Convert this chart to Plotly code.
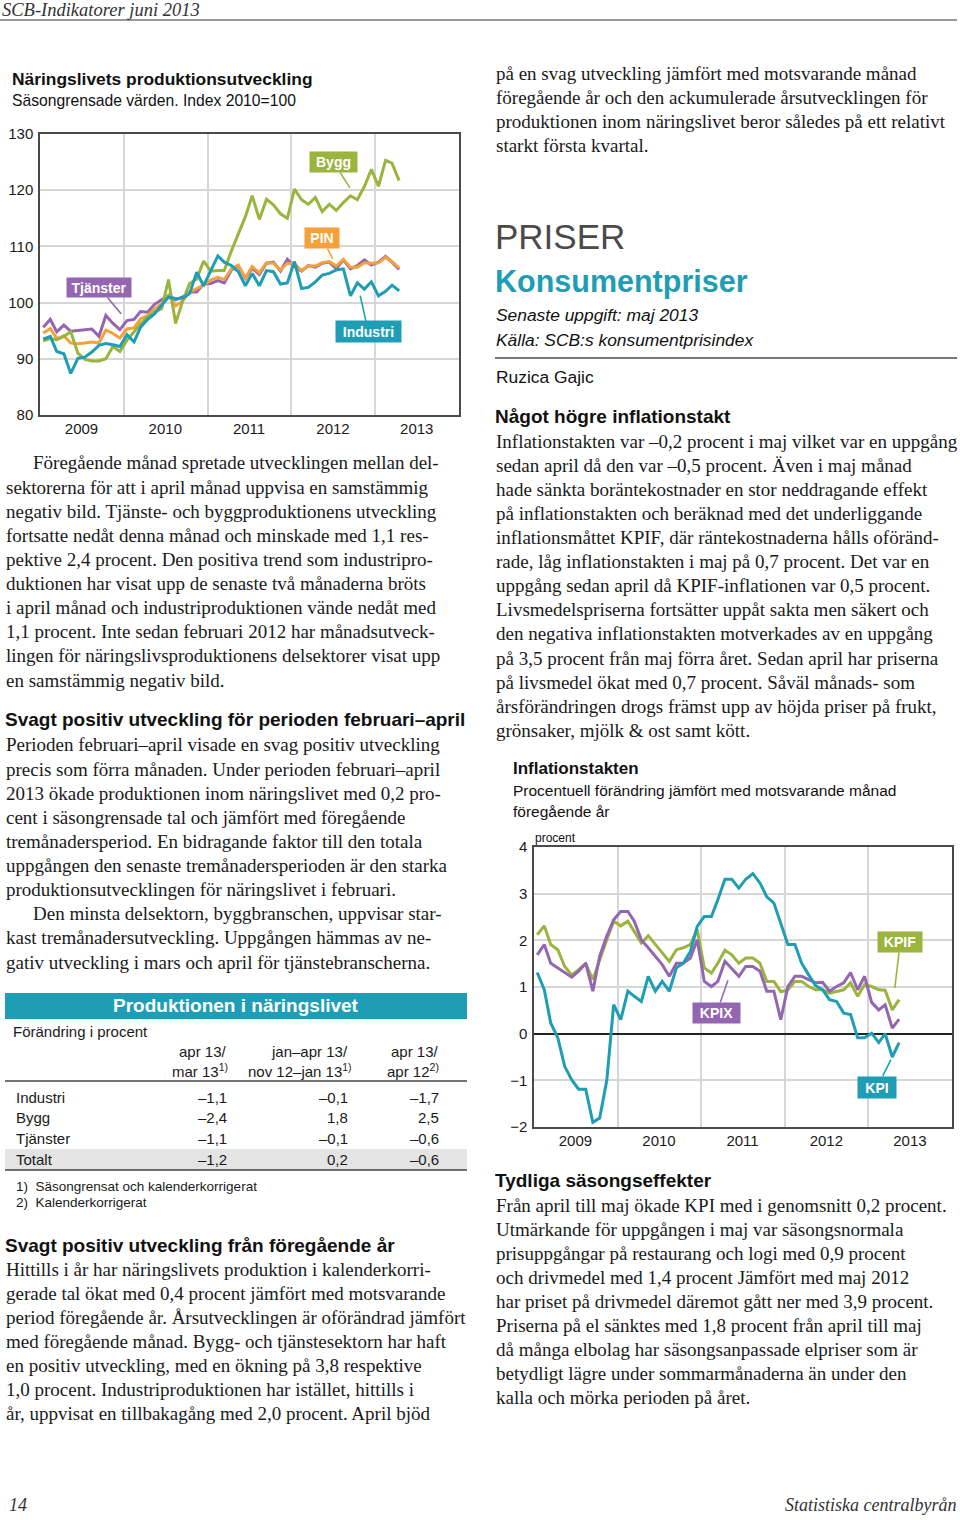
import plotly.graph_objects as go
import pandas as pd

W, H = 960, 1520

# ---------------- Data: Näringslivets produktionsutveckling, index 2010=100 (jan 2009 - apr 2013)
industri = [93.5, 94.0, 91.3, 90.9, 87.4, 90.1, 90.3, 91.2, 92.4, 92.7, 92.5, 92.2,
            94.3, 93.0, 95.6, 97.0, 98.0, 99.5, 101.0, 100.7, 100.8, 101.6, 105.4, 103.0,
            105.7, 108.3, 107.2, 106.6, 105.5, 103.0, 105.2, 103.0, 105.7, 105.5, 103.3, 103.5,
            107.3, 102.5, 102.7, 103.7, 104.9, 105.2, 105.8, 106.0, 101.2, 103.5, 102.4, 103.7,
            101.2, 102.0, 103.1, 102.1]
bygg = [93.2, 93.6, 93.4, 94.0, 94.8, 91.0, 89.9, 89.6, 89.6, 90.0, 92.2, 91.3,
        93.3, 94.9, 96.2, 97.5, 98.3, 98.9, 104.1, 96.3, 100.3, 103.4, 104.2, 107.4,
        105.6, 105.7, 105.7, 109.2, 112.3, 115.3, 119.0, 114.8, 118.4, 117.4, 115.8, 115.0,
        120.2, 118.3, 117.5, 118.7, 116.2, 117.5, 116.4, 117.8, 119.0, 118.3, 120.7, 123.7,
        120.7, 125.3, 124.8, 121.7]
tjanster = [95.6, 97.0, 94.8, 96.0, 94.9, 95.0, 95.2, 95.3, 94.0, 97.7, 96.3, 95.2,
            96.8, 97.0, 98.4, 98.3, 99.7, 100.5, 101.3, 100.5, 101.0, 101.9, 101.9, 103.3,
            103.4, 103.9, 103.5, 105.8, 106.5, 104.3, 106.1, 105.0, 107.0, 107.2, 105.6, 107.7,
            106.4, 105.6, 106.6, 106.3, 107.0, 107.2, 106.0, 107.6, 106.0, 106.6, 107.6, 106.7,
            107.2, 108.2, 107.2, 105.9]
pin = [94.6, 95.4, 93.6, 94.1, 92.8, 92.7, 92.8, 93.0, 92.8, 95.1, 94.5, 93.7,
       95.3, 95.5, 97.1, 97.7, 98.9, 99.8, 101.3, 99.4, 100.3, 101.9, 102.5, 103.1,
       104.0, 104.5, 104.1, 106.0, 106.7, 104.4, 106.4, 105.3, 107.1, 107.0, 105.8, 107.0,
       106.9, 105.7, 106.5, 106.5, 107.1, 107.3, 106.5, 107.7, 106.3, 106.3, 107.1, 107.0,
       107.1, 108.0, 107.3, 106.2]

# ---------------- Data: Inflationstakten, procent (jan 2009 - maj 2013)
kpi = [1.31, 0.94, 0.23, -0.09, -0.70, -0.99, -1.19, -1.19, -1.90, -1.81, -1.00, 0.62,
       0.30, 0.91, 0.80, 0.69, 1.23, 0.91, 1.12, 0.91, 1.41, 1.51, 1.76, 2.30,
       2.51, 2.51, 2.87, 3.31, 3.31, 3.12, 3.31, 3.43, 3.23, 2.93, 2.80, 2.37,
       1.91, 1.91, 1.51, 1.26, 1.03, 0.94, 0.73, 0.69, 0.44, 0.41, -0.09, -0.09,
       0.01, -0.19, 0.00, -0.50, -0.19]
kpif = [2.12, 2.31, 1.91, 1.80, 1.44, 1.26, 1.37, 1.50, 1.16, 1.59, 2.01, 2.41,
        2.31, 2.41, 2.19, 1.94, 2.10, 1.91, 1.73, 1.55, 1.80, 1.84, 1.91, 2.23,
        1.41, 1.30, 1.51, 1.79, 1.69, 1.51, 1.62, 1.62, 1.51, 1.12, 1.12, 0.90,
        0.94, 1.12, 1.12, 1.01, 0.94, 0.94, 0.87, 0.91, 0.94, 1.09, 0.80, 1.05,
        1.01, 0.94, 0.93, 0.51, 0.73]
kpix = [1.69, 1.91, 1.51, 1.41, 1.30, 1.21, 1.34, 1.51, 0.91, 1.66, 2.09, 2.44,
        2.62, 2.62, 2.41, 2.01, 1.84, 1.66, 1.48, 1.23, 1.51, 1.51, 1.62, 2.01,
        1.12, 1.01, 1.12, 1.55, 1.39, 1.23, 1.44, 1.44, 1.34, 0.91, 0.91, 0.30,
        1.01, 1.23, 1.23, 1.16, 1.09, 1.10, 0.91, 1.01, 1.09, 1.31, 0.94, 1.23,
        0.67, 0.51, 0.62, 0.12, 0.31]

years = [2009, 2010, 2011, 2012, 2013]

# ---------------- Table data
table_rows = ["Industri", "Bygg", "Tjänster", "Totalt"]
col_mon = ["–1,1", "–2,4", "–1,1", "–1,2"]
col_3m = ["–0,1", "1,8", "–0,1", "0,2"]
col_yr = ["–1,7", "2,5", "–0,6", "–0,6"]

# ---------------- Styles
SERIF = "Liberation Serif"
SANS = "Liberation Sans"
INK = "#1a1a1a"
TEAL = "#1e9db4"
GREEN = "#9ab43e"
PURPLE = "#9466b2"
ORANGE = "#f5a03a"
GRID = "#d6d6d6"
FRAME = "#4a4a4a"
BODY = 19.0
LS = 24.12


def months(n):
    return pd.date_range("2009-01-01", periods=n, freq="MS") + pd.Timedelta(days=14)


fig = go.Figure()

for vals, col in [(tjanster, PURPLE), (pin, ORANGE), (bygg, GREEN), (industri, TEAL)]:
    fig.add_trace(go.Scatter(x=months(len(vals)), y=vals, mode="lines",
                             line=dict(color=col, width=3), xaxis="x", yaxis="y",
                             showlegend=False, hoverinfo="skip"))
for vals, col in [(kpif, GREEN), (kpix, PURPLE), (kpi, TEAL)]:
    fig.add_trace(go.Scatter(x=months(len(vals)), y=vals, mode="lines",
                             line=dict(color=col, width=3), xaxis="x2", yaxis="y2",
                             showlegend=False, hoverinfo="skip"))

tickfont = dict(family=SANS, size=15, color=INK)


def xaxis_cfg(x0, x1, anchor):
    return dict(domain=[x0 / W, x1 / W], anchor=anchor, type="date",
                range=["2009-01-01", "2014-01-01"], tickmode="array",
                tickvals=[f"{y}-07-01" for y in years], ticktext=[str(y) for y in years],
                showgrid=False, zeroline=False, showline=True, mirror=True,
                linecolor=FRAME, linewidth=1.5, ticks="", ticklabelstandoff=-1,
                tickfont=tickfont, automargin=False,
                minor=dict(tickmode="array", tickvals=[f"{y}-01-01" for y in years[1:]],
                           showgrid=True, gridcolor=GRID, gridwidth=1.5, ticks=""))


def yaxis_cfg(top, bottom, anchor, rng, dtick):
    return dict(domain=[1 - bottom / H, 1 - top / H], anchor=anchor, range=rng,
                tickmode="linear", tick0=rng[0], dtick=dtick, showgrid=True,
                gridcolor=GRID, gridwidth=1.5, showline=True, mirror=True,
                linecolor=FRAME, linewidth=1.5, ticks="", ticklabelstandoff=2,
                tickfont=tickfont, zeroline=False, automargin=False)


y2 = yaxis_cfg(847, 1127, "x2", [-2, 4], 1)
y2.update(zeroline=True, zerolinecolor="#222", zerolinewidth=1.5)

fig.update_layout(
    width=W, height=H, margin=dict(l=0, r=0, t=0, b=0, pad=0, autoexpand=False),
    paper_bgcolor="white", plot_bgcolor="white", showlegend=False,
    xaxis=xaxis_cfg(40, 459, "y"),
    yaxis=yaxis_cfg(134, 415, "x", [80, 130], 10),
    xaxis2=xaxis_cfg(534, 952, "y2"),
    yaxis2=y2,
)


def series_label(txt, color, xa, ya, vals, idx, ax, ay, w, h, standoff):
    xs = months(len(vals))
    fig.add_annotation(x=xs[idx], y=vals[idx], xref=xa, yref=ya, text=f"<b>{txt}</b>",
                       showarrow=True, arrowhead=0, arrowwidth=1.6, arrowcolor=color,
                       ax=ax, ay=ay, bgcolor=color, borderpad=1, width=w, height=h,
                       standoff=standoff, font=dict(family=SANS, size=14, color="white"))


series_label("Tjänster", PURPLE, "x", "y", tjanster, 12, -28, -33, 62, 17, 9)
series_label("Bygg", GREEN, "x", "y", bygg, 45, -24, -38, 45, 18, 14)
series_label("PIN", ORANGE, "x", "y", pin, 42, -14, -28, 32, 18, 8)
series_label("Industri", TEAL, "x", "y", industri, 45, 11, 49, 63, 19, 13)
series_label("KPIF", GREEN, "x2", "y2", kpif, 51, 8, -68, 42, 18, 22)
series_label("KPIX", PURPLE, "x2", "y2", kpix, 28, -15, 44, 45, 18, 12)
series_label("KPI", TEAL, "x2", "y2", kpi, 51, -15, 30, 36, 19, 3)


def text(x, y, s, size=BODY, family=SERIF, color=INK, xanchor="left"):
    fig.add_annotation(x=x / W, y=1 - y / H, xref="paper", yref="paper", text=s,
                       showarrow=False, xanchor=xanchor, yanchor="middle", borderpad=0,
                       font=dict(family=family, size=size, color=color))


def block(x, y0, lines, indent_first=(), indent=27):
    for k, s in enumerate(lines):
        text(x + (indent if k in indent_first else 0), y0 + k * LS, s)


def hline(x0, x1, y, color, width):
    fig.add_shape(type="line", xref="paper", yref="paper", x0=x0 / W, x1=x1 / W,
                  y0=1 - y / H, y1=1 - y / H, line=dict(color=color, width=width))


def rect(x0, x1, y0, y1, color):
    fig.add_shape(type="rect", xref="paper", yref="paper", x0=x0 / W, x1=x1 / W,
                  y0=1 - y1 / H, y1=1 - y0 / H, fillcolor=color, line=dict(width=0),
                  layer="below")


# ---------------- Page header / footer
text(1, 10, "<i>SCB-Indikatorer juni 2013</i>", size=18.5, color="#333")
hline(0, 957, 20, "#777", 1.5)
text(8, 1505, "<i>14</i>", size=18, color="#333")
text(957, 1505, "<i>Statistiska centralbyrån</i>", size=18, color="#333", xanchor="right")

# ---------------- Chart 1 titles
text(11, 79, "<b>Näringslivets produktionsutveckling</b>", size=17.4, family=SANS, color="#111")
text(11, 101, "Säsongrensade värden. Index 2010=100", size=15.7, family=SANS, color="#111")

# ---------------- Left column text
block(5, 463, [
    "Föregående månad spretade utvecklingen mellan del-",
    "sektorerna för att i april månad uppvisa en samstämmig",
    "negativ bild. Tjänste- och byggproduktionens utveckling",
    "fortsatte nedåt denna månad och minskade med 1,1 res-",
    "pektive 2,4 procent. Den positiva trend som industripro-",
    "duktionen har visat upp de senaste två månaderna bröts",
    "i april månad och industriproduktionen vände nedåt med",
    "1,1 procent. Inte sedan februari 2012 har månadsutveck-",
    "lingen för näringslivsproduktionens delsektorer visat upp",
    "en samstämmig negativ bild.",
], indent_first=(0,))

text(4, 720, "<b>Svagt positiv utveckling för perioden februari–april</b>", size=19, family=SANS, color="#111")
block(5, 745, [
    "Perioden februari–april visade en svag positiv utveckling",
    "precis som förra månaden. Under perioden februari–april",
    "2013 ökade produktionen inom näringslivet med 0,2 pro-",
    "cent i säsongrensade tal och jämfört med föregående",
    "tremånadersperiod. En bidragande faktor till den totala",
    "uppgången den senaste tremånadersperioden är den starka",
    "produktionsutvecklingen för näringslivet i februari.",
    "Den minsta delsektorn, byggbranschen, uppvisar star-",
    "kast tremånadersutveckling. Uppgången hämmas av ne-",
    "gativ utveckling i mars och april för tjänstebranscherna.",
], indent_first=(7,))

# ---------------- Table
rect(5, 467, 993, 1019, TEAL)
text(236, 1005, "<b>Produktionen i näringslivet</b>", size=19, family=SANS, color="white", xanchor="center")
text(12, 1031, "Förändring i procent", size=15, family=SANS)
text(228, 1051, "apr 13/", size=15, family=SANS, xanchor="right")
text(229, 1070, "mar 13<sup>1)</sup>", size=15, family=SANS, xanchor="right")
text(349, 1051, "jan–apr 13/", size=15, family=SANS, xanchor="right")
text(353, 1070, "nov 12–jan 13<sup>1)</sup>", size=15, family=SANS, xanchor="right")
text(440, 1051, "apr 13/", size=15, family=SANS, xanchor="right")
text(440, 1070, "apr 12<sup>2)</sup>", size=15, family=SANS, xanchor="right")
hline(5, 467, 1081, "#444", 1.5)
rect(5, 467, 1149, 1170, "#e4e4e4")
for k, lab in enumerate(table_rows):
    yy = 1097 + k * 20.8
    text(15, yy, lab, size=15, family=SANS)
    text(228, yy, col_mon[k], size=15, family=SANS, xanchor="right")
    text(349, yy, col_3m[k], size=15, family=SANS, xanchor="right")
    text(440, yy, col_yr[k], size=15, family=SANS, xanchor="right")
hline(5, 467, 1170, "#444", 1.5)
text(15, 1186, "1)  Säsongrensat och kalenderkorrigerat", size=13.5, family=SANS)
text(15, 1202, "2)  Kalenderkorrigerat", size=13.5, family=SANS)

text(4, 1245, "<b>Svagt positiv utveckling från föregående år</b>", size=19, family=SANS, color="#111")
block(5, 1269, [
    "Hittills i år har näringslivets produktion i kalenderkorri-",
    "gerade tal ökat med 0,4 procent jämfört med motsvarande",
    "period föregående år. Årsutvecklingen är oförändrad jämfört",
    "med föregående månad. Bygg- och tjänstesektorn har haft",
    "en positiv utveckling, med en ökning på 3,8 respektive",
    "1,0 procent. Industriproduktionen har istället, hittills i",
    "år, uppvisat en tillbakagång med 2,0 procent. April bjöd",
])

# ---------------- Right column
block(495, 73, [
    "på en svag utveckling jämfört med motsvarande månad",
    "föregående år och den ackumulerade årsutvecklingen för",
    "produktionen inom näringslivet beror således på ett relativt",
    "starkt första kvartal.",
])
text(494, 236, "PRISER", size=35, family=SANS, color="#4a4a4a")
text(494, 281, "<b>Konsumentpriser</b>", size=30.5, family=SANS, color=TEAL)
text(495, 315, "<i>Senaste uppgift: maj 2013</i>", size=17.4, family=SANS, color="#111")
text(495, 340, "<i>Källa: SCB:s konsumentprisindex</i>", size=17.4, family=SANS, color="#111")
hline(495, 957, 358, "#777", 2)
text(495, 377, "Ruzica Gajic", size=17.4, family=SANS, color="#111")

text(494, 417, "<b>Något högre inflationstakt</b>", size=19, family=SANS, color="#111")
block(495, 441, [
    "Inflationstakten var –0,2 procent i maj vilket var en uppgång",
    "sedan april då den var –0,5 procent. Även i maj månad",
    "hade sänkta boräntekostnader en stor neddragande effekt",
    "på inflationstakten och beräknad med det underliggande",
    "inflationsmåttet KPIF, där räntekostnaderna hålls oföränd-",
    "rade, låg inflationstakten i maj på 0,7 procent. Det var en",
    "uppgång sedan april då KPIF-inflationen var 0,5 procent.",
    "Livsmedelspriserna fortsätter uppåt sakta men säkert och",
    "den negativa inflationstakten motverkades av en uppgång",
    "på 3,5 procent från maj förra året. Sedan april har priserna",
    "på livsmedel ökat med 0,7 procent. Såväl månads- som",
    "årsförändringen drogs främst upp av höjda priser på frukt,",
    "grönsaker, mjölk & ost samt kött.",
])

text(512, 768, "<b>Inflationstakten</b>", size=17, family=SANS, color="#111")
text(512, 790, "Procentuell förändring jämfört med motsvarande månad", size=15.5, family=SANS, color="#111")
text(512, 811, "föregående år", size=15.5, family=SANS, color="#111")
text(534, 838, "procent", size=12, family=SANS, color="#111")

text(494, 1180, "<b>Tydliga säsongseffekter</b>", size=19, family=SANS, color="#111")
block(495, 1205, [
    "Från april till maj ökade KPI med i genomsnitt 0,2 procent.",
    "Utmärkande för uppgången i maj var säsongsnormala",
    "prisuppgångar på restaurang och logi med 0,9 procent",
    "och drivmedel med 1,4 procent Jämfört med maj 2012",
    "har priset på drivmedel däremot gått ner med 3,9 procent.",
    "Priserna på el sänktes med 1,8 procent från april till maj",
    "då många elbolag har säsongsanpassade elpriser som är",
    "betydligt lägre under sommarmånaderna än under den",
    "kalla och mörka perioden på året.",
])

page_css = ("document.documentElement.style.margin='0';document.body.style.margin='0';"
            "document.body.style.padding='0';document.body.style.overflow='hidden';"
            "document.documentElement.style.overflow='hidden';"
            "var d=document.getElementById('{plot_id}');d.style.position='fixed';"
            "d.style.top='0px';d.style.left='0px';")
fig.write_html("out.html", post_script=page_css, config={"displayModeBar": False})
